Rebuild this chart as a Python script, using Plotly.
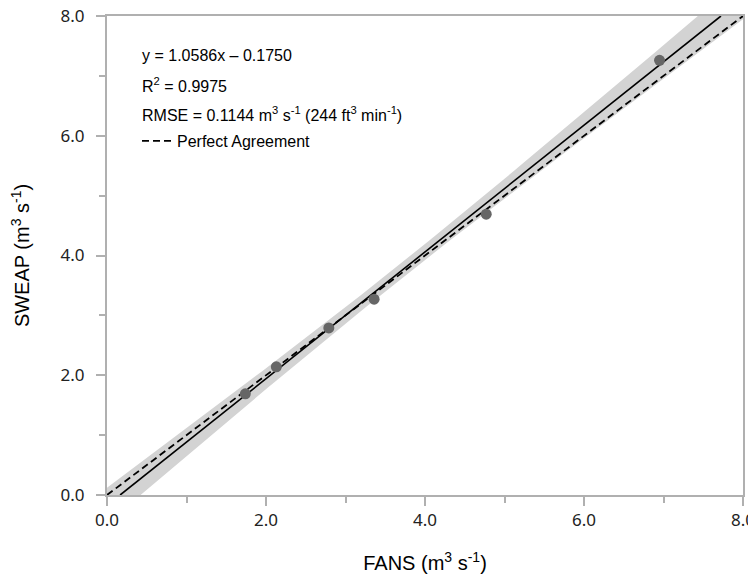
import plotly.graph_objects as go
import numpy as np

# Data
fans = [1.74, 2.13, 2.79, 3.36, 4.77, 6.95]
sweap = [1.69, 2.14, 2.79, 3.27, 4.69, 7.26]
slope = 1.0586
intercept = -0.1750
rmse = 0.1144
t_crit = 2.776  # 95% t value, df = n - 2 = 4
perfect_x = [0.0, 8.0]
perfect_y = [0.0, 8.0]
tick_vals = [0, 2, 4, 6, 8]
tick_text = ["0.0", "2.0", "4.0", "6.0", "8.0"]
minor_vals = [1, 3, 5, 7]

# Fitted line across the plotting window
fit_x = [(0 - intercept) / slope, (8 - intercept) / slope]
fit_y = [slope * x + intercept for x in fit_x]

# 95% confidence band of the regression
xa = np.array(fans)
xm = xa.mean()
sxx = ((xa - xm) ** 2).sum()
bx = np.linspace(-0.6, 8.6, 120)
half = t_crit * rmse * np.sqrt(1 / len(xa) + (bx - xm) ** 2 / sxx)
yc = slope * bx + intercept
band_x = np.concatenate([bx, bx[::-1]])
band_y = np.concatenate([yc + half, (yc - half)[::-1]])

fig = go.Figure()
fig.add_trace(go.Scatter(x=band_x, y=band_y, fill="toself", fillcolor="#d3d3d3",
                         line=dict(width=0), mode="lines", showlegend=False, hoverinfo="skip"))
fig.add_trace(go.Scatter(x=perfect_x, y=perfect_y, mode="lines",
                         line=dict(color="black", width=1.8, dash="7px,4px"),
                         name="Perfect Agreement", showlegend=True))
fig.add_trace(go.Scatter(x=fit_x, y=fit_y, mode="lines", line=dict(color="black", width=1.6),
                         showlegend=False))
fig.add_trace(go.Scatter(x=fans, y=sweap, mode="markers",
                         marker=dict(color="#666666", size=11), showlegend=False))

# Page offset: browser body margin of 8px
OFF = 8
PL, PT, PW, PH = 107, 16, 636, 479  # plot area in page pixels

txt_font = dict(family="Liberation Sans, Arial", size=16, color="black")
lines = ["y = 1.0586x – 0.1750",
         "R<sup>2</sup> = 0.9975",
         "RMSE = 0.1144 m<sup>3</sup> s<sup>-1</sup> (244 ft<sup>3</sup> min<sup>-1</sup>)"]
ys = [55, 85, 114]
for t, yp in zip(lines, ys):
    fig.add_annotation(x=(140 - PL) / PW, y=1 - (yp - PT) / PH, xref="paper", yref="paper",
                       text=t, showarrow=False, xanchor="left", yanchor="middle", font=txt_font)

axis_common = dict(range=[0, 8], tickvals=tick_vals, ticktext=tick_text, ticks="outside",
                   ticklen=9, tickwidth=1.5, tickcolor="#b0b0b0", showline=True, linecolor="#b0b0b0",
                   linewidth=2, mirror=True, showgrid=False, zeroline=False,
                   tickfont=dict(family="Noto Sans", size=17, color="#222222"),
                   ticklabeloverflow="allow",
                   minor=dict(tickvals=minor_vals, ticks="outside", ticklen=6,
                              tickwidth=1.5, tickcolor="#b0b0b0"),
                   automargin=False)

fig.update_xaxes(**axis_common,
                 title=dict(text="FANS (m<sup>3</sup> s<sup>-1</sup>)", standoff=26,
                            font=dict(family="Liberation Sans, Arial", size=20, color="black")))
fig.update_yaxes(**axis_common, ticklabelstandoff=8,
                 title=dict(text="SWEAP (m<sup>3</sup> s<sup>-1</sup>)", standoff=33,
                            font=dict(family="Liberation Sans, Arial", size=20, color="black")))

W, H = 756 - OFF, 575 - OFF
fig.update_layout(width=W, height=H,
                  margin=dict(l=PL - OFF, r=756 - (PL + PW), t=PT - OFF, b=H - (PT - OFF) - PH),
                  plot_bgcolor="white", paper_bgcolor="white",
                  legend=dict(x=(137 - PL) / PW, y=1 - (141 - PT) / PH, xanchor="left",
                              yanchor="middle", bgcolor="rgba(0,0,0,0)",
                              font=txt_font, itemwidth=30))

fig.write_html("out.html")
